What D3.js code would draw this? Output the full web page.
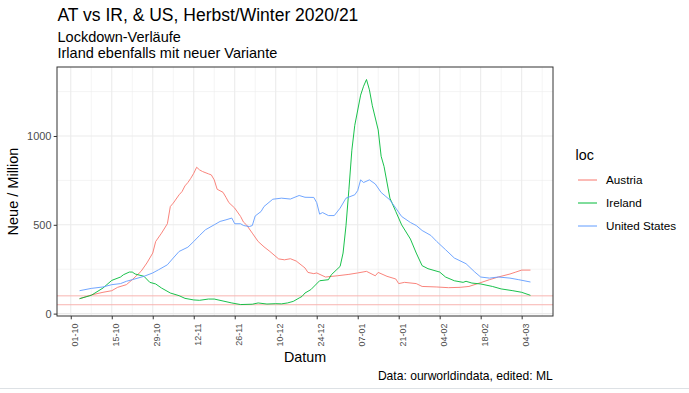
<!DOCTYPE html>
<html>
<head>
<meta charset="utf-8">
<script src="https://cdn.jsdelivr.net/npm/d3@7"></script>
<style>
  body { margin: 0; background: #fff; }
  svg { display: block; }
  text { font-family: "Liberation Sans", Arial, Helvetica, sans-serif; }
</style>
</head>
<body>
<svg id="chart" width="689" height="393"></svg>
<script>
// ---------------- data (7-day avg new cases per million) ----------------
const seriesNames = ["Austria", "Ireland", "United States"];
const seriesColors = ["#F8766D", "#00BA38", "#619CFF"];

const austriaDates = ["2020-10-04","2020-10-08","2020-10-12","2020-10-15","2020-10-17","2020-10-20","2020-10-22","2020-10-25","2020-10-27","2020-10-29","2020-10-30","2020-11-01","2020-11-03","2020-11-04","2020-11-05","2020-11-07","2020-11-08","2020-11-09","2020-11-10","2020-11-11","2020-11-12","2020-11-13","2020-11-14","2020-11-15","2020-11-17","2020-11-18","2020-11-19","2020-11-20","2020-11-22","2020-11-23","2020-11-24","2020-11-26","2020-11-28","2020-11-29","2020-11-30","2020-12-02","2020-12-04","2020-12-06","2020-12-08","2020-12-11","2020-12-13","2020-12-15","2020-12-17","2020-12-20","2020-12-21","2020-12-23","2020-12-24","2020-12-27","2020-12-31","2021-01-04","2021-01-07","2021-01-10","2021-01-13","2021-01-14","2021-01-17","2021-01-20","2021-01-21","2021-01-23","2021-01-27","2021-01-29","2021-02-03","2021-02-07","2021-02-11","2021-02-14","2021-02-17","2021-02-21","2021-02-24","2021-02-28","2021-03-02","2021-03-04","2021-03-07"];
const austriaValues = [84,105,120,129,148,163,191,238,285,341,406,453,506,603,622,669,687,719,738,762,790,824,809,800,787,781,753,700,683,655,625,594,547,515,500,453,406,376,350,308,303,309,296,257,232,225,229,206,213,221,229,238,213,232,210,195,169,176,169,153,150,146,148,153,169,191,206,223,234,245,245];

const irelandDates = ["2020-10-04","2020-10-08","2020-10-12","2020-10-15","2020-10-18","2020-10-19","2020-10-21","2020-10-22","2020-10-23","2020-10-26","2020-10-28","2020-10-30","2020-11-01","2020-11-04","2020-11-07","2020-11-09","2020-11-12","2020-11-14","2020-11-17","2020-11-19","2020-11-22","2020-11-25","2020-11-28","2020-12-02","2020-12-04","2020-12-07","2020-12-10","2020-12-12","2020-12-14","2020-12-16","2020-12-18","2020-12-19","2020-12-20","2020-12-22","2020-12-25","2020-12-28","2020-12-29","2021-01-01","2021-01-02","2021-01-03","2021-01-04","2021-01-05","2021-01-06","2021-01-08","2021-01-09","2021-01-10","2021-01-11","2021-01-12","2021-01-14","2021-01-15","2021-01-16","2021-01-18","2021-01-20","2021-01-22","2021-01-25","2021-01-27","2021-01-29","2021-01-31","2021-02-04","2021-02-06","2021-02-09","2021-02-12","2021-02-13","2021-02-15","2021-02-18","2021-02-22","2021-02-25","2021-03-01","2021-03-04","2021-03-07"];
const irelandValues = [84,103,144,187,206,219,234,234,223,210,176,167,144,116,101,86,77,75,82,82,71,60,51,53,60,54,56,55,60,69,88,97,116,135,185,191,219,266,341,495,700,920,1060,1230,1280,1318,1260,1170,1034,886,828,650,575,500,420,341,270,253,234,206,185,176,182,172,167,153,139,129,120,103];

const usDates = ["2020-10-04","2020-10-08","2020-10-12","2020-10-15","2020-10-18","2020-10-20","2020-10-22","2020-10-26","2020-10-29","2020-10-31","2020-11-03","2020-11-05","2020-11-07","2020-11-10","2020-11-12","2020-11-14","2020-11-16","2020-11-19","2020-11-21","2020-11-23","2020-11-25","2020-11-26","2020-11-28","2020-11-29","2020-12-01","2020-12-02","2020-12-03","2020-12-05","2020-12-06","2020-12-09","2020-12-12","2020-12-15","2020-12-18","2020-12-20","2020-12-23","2020-12-24","2020-12-25","2020-12-26","2020-12-28","2020-12-30","2021-01-01","2021-01-03","2021-01-06","2021-01-07","2021-01-08","2021-01-09","2021-01-11","2021-01-13","2021-01-15","2021-01-18","2021-01-20","2021-01-22","2021-01-25","2021-01-27","2021-01-29","2021-02-01","2021-02-03","2021-02-06","2021-02-09","2021-02-13","2021-02-16","2021-02-18","2021-02-21","2021-02-24","2021-02-28","2021-03-03","2021-03-07"];
const usValues = [129,142,150,163,169,182,191,210,229,247,275,313,350,374,406,440,472,500,519,528,538,506,506,496,490,496,550,575,603,644,650,645,665,655,654,625,560,569,552,552,594,650,669,693,753,738,753,730,682,640,594,547,513,496,468,440,406,360,313,281,234,206,200,206,200,191,178];

const refLines = [100, 50];

const xTickDates = ["2020-10-01","2020-10-15","2020-10-29","2020-11-12","2020-11-26","2020-12-10","2020-12-24","2021-01-07","2021-01-21","2021-02-04","2021-02-18","2021-03-04"];
const xTickLabels = ["01-10","15-10","29-10","12-11","26-11","10-12","24-12","07-01","21-01","04-02","18-02","04-03"];
const yTicks = [0, 500, 1000];
const yTickLabels = ["0", "500", "1000"];
const yMinor = [250, 750, 1250];

const titleText = "AT vs IR, & US, Herbst/Winter 2020/21";
const subtitleLines = ["Lockdown-Verläufe", "Irland ebenfalls mit neuer Variante"];
const xTitle = "Datum";
const yTitle = "Neue / Million";
const legendTitle = "loc";
const captionText = "Data: ourworldindata, edited: ML";

// ---------------- build ----------------
const parse = d3.timeParse("%Y-%m-%d");
const series = [
  { name: seriesNames[0], color: seriesColors[0], pts: austriaDates.map((d, i) => ({ date: parse(d), v: austriaValues[i] })) },
  { name: seriesNames[1], color: seriesColors[1], pts: irelandDates.map((d, i) => ({ date: parse(d), v: irelandValues[i] })) },
  { name: seriesNames[2], color: seriesColors[2], pts: usDates.map((d, i) => ({ date: parse(d), v: usValues[i] })) }
];

const panel = { left: 57, right: 553, top: 67, bottom: 316 };
const svg = d3.select("#chart");

// x domain: data extent expanded by 5% (ggplot default)
const allDates = series.flatMap(s => s.pts.map(p => +p.date));
const dMin = d3.min(allDates), dMax = d3.max(allDates);
const dPad = (dMax - dMin) * 0.05;
const x = d3.scaleTime()
  .domain([new Date(dMin - dPad), new Date(dMax + dPad)])
  .range([panel.left, panel.right]);

// y domain: values + ref lines, expanded by 5%
const allVals = series.flatMap(s => s.pts.map(p => p.v)).concat(refLines);
const vMin = d3.min(allVals), vMax = d3.max(allVals);
const vPad = (vMax - vMin) * 0.05;
const y = d3.scaleLinear()
  .domain([vMin - vPad, vMax + vPad + 7])
  .range([panel.bottom, panel.top]);

// background
svg.append("rect").attr("x", 0).attr("y", 0).attr("width", 689).attr("height", 393).attr("fill", "#fff");

// grid
const grid = svg.append("g");
const majorX = xTickDates.map(parse);
const minorX = [];
majorX.forEach(t => {
  [-7, 7].forEach(o => {
    const m = d3.timeDay.offset(t, o);
    const px = x(m);
    if (px > panel.left && px < panel.right && !minorX.some(q => +q === +m)) minorX.push(m);
  });
});
grid.selectAll(".minx").data(minorX).join("line")
  .attr("x1", d => x(d)).attr("x2", d => x(d))
  .attr("y1", panel.top).attr("y2", panel.bottom)
  .attr("stroke", "#ebebeb").attr("stroke-width", 0.55);
grid.selectAll(".miny").data(yMinor).join("line")
  .attr("x1", panel.left).attr("x2", panel.right)
  .attr("y1", d => y(d)).attr("y2", d => y(d))
  .attr("stroke", "#ebebeb").attr("stroke-width", 0.55);
grid.selectAll(".majx").data(majorX).join("line")
  .attr("x1", d => x(d)).attr("x2", d => x(d))
  .attr("y1", panel.top).attr("y2", panel.bottom)
  .attr("stroke", "#ebebeb").attr("stroke-width", 1.1);
grid.selectAll(".majy").data(yTicks).join("line")
  .attr("x1", panel.left).attr("x2", panel.right)
  .attr("y1", d => y(d)).attr("y2", d => y(d))
  .attr("stroke", "#ebebeb").attr("stroke-width", 1.1);

// reference lines
svg.append("g").selectAll("line").data(refLines).join("line")
  .attr("x1", panel.left).attr("x2", panel.right)
  .attr("y1", d => y(d)).attr("y2", d => y(d))
  .attr("stroke", "#f8b4b0").attr("stroke-width", 1);

// series lines
const line = d3.line().x(d => x(d.date)).y(d => y(d.v));
svg.append("g").selectAll("path").data(series).join("path")
  .attr("d", d => line(d.pts))
  .attr("fill", "none")
  .attr("stroke", d => d.color)
  .attr("stroke-width", 0.9)
  .attr("stroke-linejoin", "round");

// panel border
svg.append("rect")
  .attr("x", panel.left).attr("y", panel.top)
  .attr("width", panel.right - panel.left).attr("height", panel.bottom - panel.top)
  .attr("fill", "none").attr("stroke", "#333333").attr("stroke-width", 1);

// x axis
const xAxis = d3.axisBottom(x)
  .tickValues(majorX)
  .tickFormat((d, i) => xTickLabels[i])
  .tickSize(3.3).tickPadding(2);
const gx = svg.append("g").attr("transform", `translate(0,${panel.bottom})`).call(xAxis);
gx.select(".domain").remove();
gx.selectAll(".tick line").attr("stroke", "#333333").attr("stroke-width", 1);
gx.selectAll(".tick text")
  .attr("fill", "#4d4d4d")
  .attr("font-size", 9)
  .attr("text-anchor", "end")
  .attr("dominant-baseline", "central")
  .attr("transform", "translate(3.8,0) rotate(-90)")
  .attr("x", -7.5).attr("y", 0).attr("dy", null);

// y axis
const yAxis = d3.axisLeft(y)
  .tickValues(yTicks)
  .tickFormat((d, i) => yTickLabels[i])
  .tickSize(3.3).tickPadding(2.2);
const gy = svg.append("g").attr("transform", `translate(${panel.left},0)`).call(yAxis);
gy.select(".domain").remove();
gy.selectAll(".tick line").attr("stroke", "#333333").attr("stroke-width", 1);
gy.selectAll(".tick text")
  .attr("fill", "#4d4d4d")
  .attr("font-size", 11);

// axis titles
svg.append("text")
  .attr("x", (panel.left + panel.right) / 2).attr("y", 361.5)
  .attr("text-anchor", "middle").attr("font-size", 14.3).attr("fill", "#000")
  .text(xTitle);
svg.append("text")
  .attr("transform", `translate(18,${(panel.top + panel.bottom) / 2}) rotate(-90)`)
  .attr("text-anchor", "middle").attr("font-size", 14.5).attr("fill", "#000")
  .text(yTitle);

// title & subtitle
svg.append("text").attr("x", 57.5).attr("y", 21).attr("font-size", 17.5).attr("fill", "#000").text(titleText);
svg.selectAll(".sub").data(subtitleLines).join("text")
  .attr("x", 57.5).attr("y", (d, i) => 42 + i * 15.5)
  .attr("font-size", 14.5).attr("fill", "#000")
  .text(d => d);

// legend
const lg = svg.append("g");
lg.append("text").attr("x", 575.5).attr("y", 160).attr("font-size", 14.3).attr("fill", "#000").text(legendTitle);
const items = lg.selectAll(".item").data(series).join("g")
  .attr("transform", (d, i) => `translate(0,${180 + i * 23})`);
items.append("line").attr("x1", 578).attr("x2", 597).attr("y1", 0).attr("y2", 0)
  .attr("stroke", d => d.color).attr("stroke-width", 1);
items.append("text").attr("x", 606).attr("y", 0).attr("dy", "0.35em")
  .attr("font-size", 11.7).attr("fill", "#000").text(d => d.name);

// caption
svg.append("text").attr("x", 552.7).attr("y", 380).attr("text-anchor", "end")
  .attr("font-size", 12.1).attr("fill", "#000").text(captionText);

// bottom separator
svg.append("line").attr("x1", 0).attr("x2", 689).attr("y1", 388.5).attr("y2", 388.5)
  .attr("stroke", "#dde1e5").attr("stroke-width", 1);
</script>
</body>
</html>
